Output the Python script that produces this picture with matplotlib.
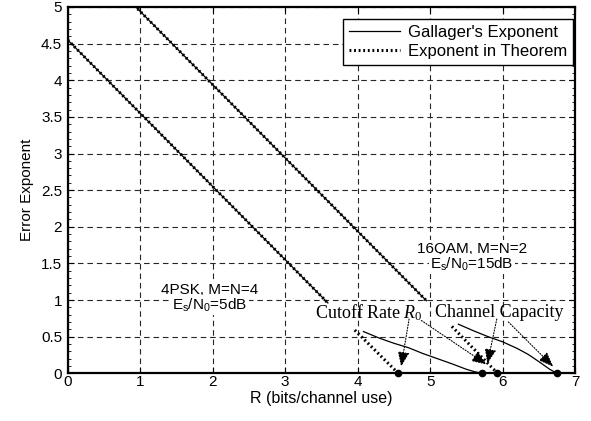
import matplotlib
matplotlib.use("Agg")
import matplotlib.pyplot as plt
from matplotlib.ticker import MultipleLocator
import numpy as np

plt.rcParams['font.family'] = ['Liberation Sans', 'DejaVu Sans']
plt.rcParams['mathtext.fontset'] = 'custom'
plt.rcParams['mathtext.rm'] = 'Liberation Sans'
plt.rcParams['mathtext.sf'] = 'Liberation Serif'
plt.rcParams['mathtext.it'] = 'Liberation Serif:italic'

# ---- data ----
# 4PSK, M=N=4, Es/N0=5dB
psk_lin_R = [0.0, 3.59]
psk_lin_E = [4.55, 0.96]
psk_gal_R = [4.08, 4.30, 4.50, 4.70, 4.90, 5.10, 5.30, 5.50, 5.62, 5.72]
psk_gal_E = [0.57, 0.48, 0.41, 0.35, 0.27, 0.20, 0.13, 0.055, 0.02, 0.0]
psk_thm_R = [3.96, 4.56]
psk_thm_E = [0.59, 0.0]

# 16QAM, M=N=2, Es/N0=15dB
qam_lin_R = [0.0, 4.95]
qam_lin_E = [5.94, 0.99]
qam_gal_R = [5.39, 5.60, 5.80, 6.00, 6.20, 6.35, 6.50, 6.65, 6.75]
qam_gal_E = [0.67, 0.58, 0.50, 0.43, 0.34, 0.26, 0.16, 0.055, 0.0]
qam_thm_R = [5.30, 5.93]
qam_thm_E = [0.64, 0.0]

# cutoff rates and capacities (dots on the axis)
dot_R = [4.56, 5.72, 5.93, 6.75]
dot_E = [0.0, 0.0, 0.0, 0.0]

x_ticks = [0, 1, 2, 3, 4, 5, 6, 7]
y_ticks = [0, 0.5, 1, 1.5, 2, 2.5, 3, 3.5, 4, 4.5, 5]
y_tick_labels = ['0', '0.5', '1', '1.5', '2', '2.5', '3', '3.5', '4', '4.5', '5']

# ---- figure ----
fig = plt.figure(figsize=(5.91, 4.21), dpi=100)
ax = fig.add_axes([0.1146, 0.1133, 0.8584, 0.8701])

dotted = dict(color='black', linestyle=(0, (0.6, 0.9)), linewidth=2.2)
solid = dict(color='black', linestyle='-', linewidth=0.9)

# theorem (dotted) first, then Gallager (solid) on top
ax.plot(psk_lin_R, psk_lin_E, **dotted)
ax.plot(psk_thm_R, psk_thm_E, **dotted)
ax.plot(qam_lin_R, qam_lin_E, **dotted)
l2, = ax.plot(qam_thm_R, qam_thm_E, **dotted)

ax.plot(psk_lin_R, psk_lin_E, **solid)
ax.plot(psk_gal_R, psk_gal_E, **solid)
ax.plot(qam_lin_R, qam_lin_E, **solid)
l1, = ax.plot(qam_gal_R, qam_gal_E, **solid)

ax.plot(dot_R, dot_E, 'o', color='black', markersize=4.5, clip_on=False, zorder=5)

ax.set_xlim(0, 7)
ax.set_ylim(0, 5)
ax.set_xticks(x_ticks)
ax.set_yticks(y_ticks)
ax.set_yticklabels(y_tick_labels)
ax.yaxis.set_minor_locator(MultipleLocator(0.1))
ax.tick_params(which='both', direction='in', top=True, right=True, labelsize=11)
ax.tick_params(which='major', length=4, width=0.8)
ax.tick_params(which='minor', length=2.5, width=0.6)
ax.tick_params(axis='x', pad=1.5)
ax.tick_params(axis='y', pad=4)
for s in ax.spines.values():
    s.set_linewidth(1.6)

ax.grid(True, which='major', color='0.15', linestyle=(0, (5, 3.5)), linewidth=0.8)
ax.set_axisbelow(True)

ax.set_xlabel('R (bits/channel use)', fontsize=11.5, labelpad=1)
ax.set_ylabel('Error Exponent', fontsize=11, labelpad=5)

leg = ax.legend([l1, l2], ["Gallager's Exponent", "Exponent in Theorem"],
                loc='upper right', bbox_to_anchor=(0.996, 0.967),
                fontsize=12, frameon=True, fancybox=False, framealpha=1,
                edgecolor='black', handlelength=3.1, handletextpad=0.45,
                borderpad=0.35, labelspacing=0.25, borderaxespad=0)
leg.get_frame().set_linewidth(1.0)

bg = dict(facecolor='white', edgecolor='none', pad=1)
ax.text(1.96, 1.14, '4PSK, M=N=4', ha='center', va='center', fontsize=11, bbox=bg)
ax.text(1.96, 0.93, r'E$_\mathrm{s}$/N$_\mathrm{0}$=5dB', ha='center', va='center', fontsize=11, bbox=bg)
ax.text(5.58, 1.70, '16QAM, M=N=2', ha='center', va='center', fontsize=11, bbox=bg)
ax.text(5.58, 1.49, r'E$_\mathrm{s}$/N$_\mathrm{0}$=15dB', ha='center', va='center', fontsize=11, bbox=bg)

serif = ['Liberation Serif', 'DejaVu Serif']
ax.text(4.15, 0.83, r'Cutoff Rate $R_\mathsf{0}$', ha='center', va='center', fontsize=13, family=serif)
ax.text(5.96, 0.83, 'Channel Capacity', ha='center', va='center', fontsize=13, family=serif)

arrows = [((4.71, 0.74), (4.60, 0.09)),
          ((4.88, 0.72), (5.78, 0.12)),
          ((5.92, 0.74), (5.79, 0.13)),
          ((6.08, 0.70), (6.70, 0.09))]
for (x0, y0), (x1, y1) in arrows:
    ax.annotate('', xy=(x1, y1), xytext=(x0, y0),
                arrowprops=dict(arrowstyle='-|>,head_length=0.9,head_width=0.35',
                                linestyle=(0, (1, 1.5)), lw=0.8, color='black',
                                shrinkA=0, shrinkB=0))

fig.savefig('out.png', dpi=100)
